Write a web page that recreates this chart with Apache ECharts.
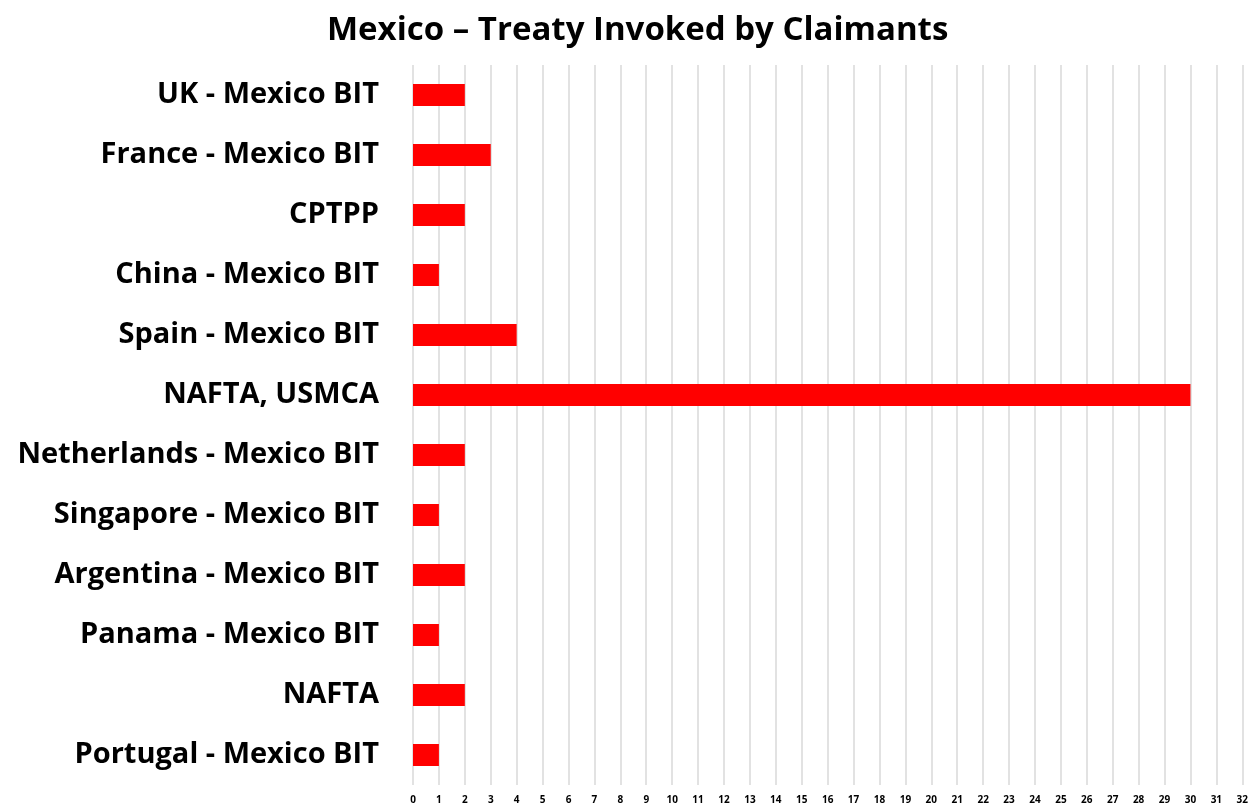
<!DOCTYPE html>
<html>
<head>
<meta charset="utf-8">
<script src="https://cdn.jsdelivr.net/npm/echarts@6/dist/echarts.min.js"></script>
<style>
  html, body { margin: 0; padding: 0; background: #ffffff; }
  #chart { width: 1251px; height: 805px; }
</style>
</head>
<body>
<div id="chart"></div>
<script>
// Treaties invoked by claimants against Mexico (top to bottom)
const treaties = [
  'UK - Mexico BIT',
  'France - Mexico BIT',
  'CPTPP',
  'China - Mexico BIT',
  'Spain - Mexico BIT',
  'NAFTA, USMCA',
  'Netherlands - Mexico BIT',
  'Singapore - Mexico BIT',
  'Argentina - Mexico BIT',
  'Panama - Mexico BIT',
  'NAFTA',
  'Portugal - Mexico BIT'
];
const caseCounts = [2, 3, 2, 1, 4, 30, 2, 1, 2, 1, 2, 1];
const axisMin = 0;
const axisMax = 32;
const axisStep = 1;

const chart = echarts.init(document.getElementById('chart'));
const fontFamily = '"Open Sans", Lato, sans-serif';

chart.setOption({
  animation: false,
  backgroundColor: '#ffffff',
  title: {
    text: 'Mexico – Treaty Invoked by Claimants',
    left: 322,
    top: 9,
    textStyle: { fontFamily, fontWeight: 'bold', fontSize: 33, color: '#000000' }
  },
  grid: { left: 413, right: 8, top: 65, bottom: 20, containLabel: false },
  xAxis: {
    type: 'value',
    min: axisMin,
    max: axisMax,
    interval: axisStep,
    axisLine: { show: false },
    axisTick: { show: false },
    splitLine: { show: true, lineStyle: { color: '#d9d9d9', width: 1.5 } },
    axisLabel: {
      margin: 10,
      fontFamily, fontWeight: 'bold', fontSize: 10, color: '#000000'
    }
  },
  yAxis: {
    type: 'category',
    data: treaties,
    inverse: true,
    axisLine: { show: false },
    axisTick: { show: false },
    axisLabel: {
      margin: 34,
      fontFamily, fontWeight: 'bold', fontSize: 29, color: '#000000'
    }
  },
  series: [{
    type: 'bar',
    data: caseCounts,
    barWidth: 22,
    itemStyle: { color: '#ff0000' }
  }]
});
</script>
</body>
</html>
